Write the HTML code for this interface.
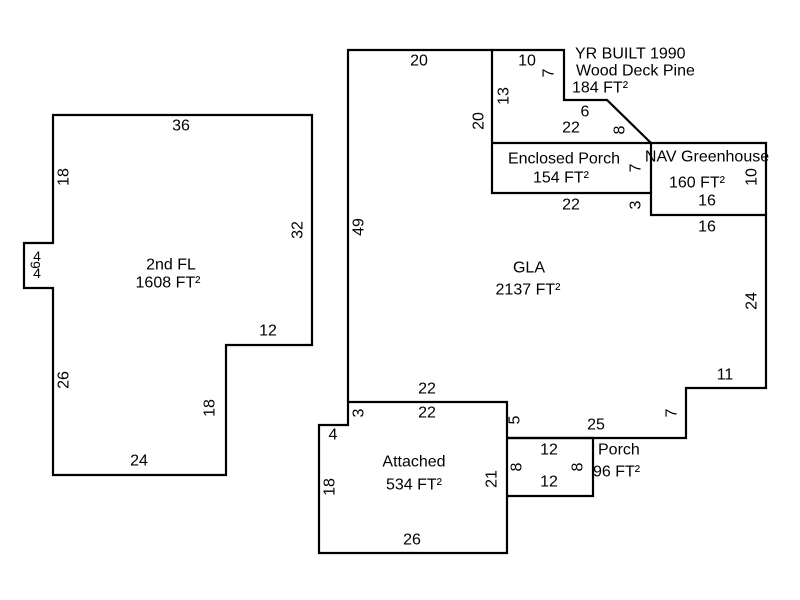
<!DOCTYPE html>
<html><head><meta charset="utf-8"><style>
html,body{margin:0;padding:0;background:#fff;}
svg{display:block;}
text{font-family:"Liberation Sans",Arial,sans-serif;font-size:16px;fill:#000;}
</style></head><body>
<svg width="800" height="600" viewBox="0 0 800 600" xmlns="http://www.w3.org/2000/svg">
<g fill="none" stroke="#000" stroke-width="2.2">
<polygon points="53,115 312,115 312,345 226,345 226,475 53,475 53,288 24,288 24,243 53,243"/>
<polyline points="348,402 348,50 492,50 492,193 651,193 651,215 766,215 766,388 686,388 686,438 507,438"/>
<polyline points="492,50 564,50 564,100 607,100 651,143"/>
<polyline points="492,143 651,143 651,193"/>
<polyline points="651,143 766,143 766,215"/>
<polygon points="348,402 507,402 507,553 319,553 319,425 348,425"/>
<polyline points="507,438 593,438 593,496 507,496"/>
</g>
<g text-anchor="middle" dominant-baseline="central">
<text x="181" y="126">36</text>
<text x="171" y="265">2nd FL</text>
<text x="168" y="283">1608 FT²</text>
<text x="268" y="331">12</text>
<text x="139" y="461">24</text>
<text transform="translate(64,177) rotate(-90)">18</text>
<text transform="translate(298,230) rotate(-90)">32</text>
<text transform="translate(64,380) rotate(-90)">26</text>
<text transform="translate(210,408) rotate(-90)">18</text>
<text x="37" y="256" style="font-size:14px">4</text>
<text x="37" y="273" style="font-size:14px">4</text>
<text transform="translate(35,265) rotate(-90)" style="font-size:14px">6</text>
<text x="419" y="61">20</text>
<text transform="translate(359,227) rotate(-90)">49</text>
<text transform="translate(479,121) rotate(-90)">20</text>
<text x="529" y="268">GLA</text>
<text x="528" y="290">2137 FT²</text>
<text x="707" y="227">16</text>
<text transform="translate(752,301) rotate(-90)">24</text>
<text x="725" y="375">11</text>
<text transform="translate(672,413) rotate(-90)">7</text>
<text x="596" y="425">25</text>
<text transform="translate(515,420) rotate(-90)">5</text>
<text x="427" y="389">22</text>
<text x="527" y="61">10</text>
<text transform="translate(549,73) rotate(-90)">7</text>
<text transform="translate(504,96) rotate(-90)">13</text>
<text x="585" y="112">6</text>
<text x="571" y="128">22</text>
<text transform="translate(620,130) rotate(-90)">8</text>
<text x="575" y="54" text-anchor="start">YR BUILT 1990</text>
<text x="576" y="71" text-anchor="start">Wood Deck Pine</text>
<text x="572" y="88" text-anchor="start">184 FT²</text>
<text x="564" y="159">Enclosed Porch</text>
<text x="561" y="178">154 FT²</text>
<text transform="translate(636,168) rotate(-90)">7</text>
<text x="571" y="205">22</text>
<text transform="translate(636,205) rotate(-90)">3</text>
<text x="707" y="157">NAV Greenhouse</text>
<text x="697" y="183">160 FT²</text>
<text x="707" y="201">16</text>
<text transform="translate(752,177) rotate(-90)">10</text>
<text x="427" y="413">22</text>
<text transform="translate(359,413) rotate(-90)">3</text>
<text x="333" y="435">4</text>
<text x="414" y="462">Attached</text>
<text x="414" y="485">534 FT²</text>
<text transform="translate(330,487) rotate(-90)">18</text>
<text transform="translate(492,479) rotate(-90)">21</text>
<text x="412" y="540">26</text>
<text x="549" y="450">12</text>
<text x="549" y="482">12</text>
<text transform="translate(517,467) rotate(-90)">8</text>
<text transform="translate(578,467) rotate(-90)">8</text>
<text x="598" y="450" text-anchor="start">Porch</text>
<text x="593" y="472" text-anchor="start">96 FT²</text>
</g>
</svg>
</body></html>
